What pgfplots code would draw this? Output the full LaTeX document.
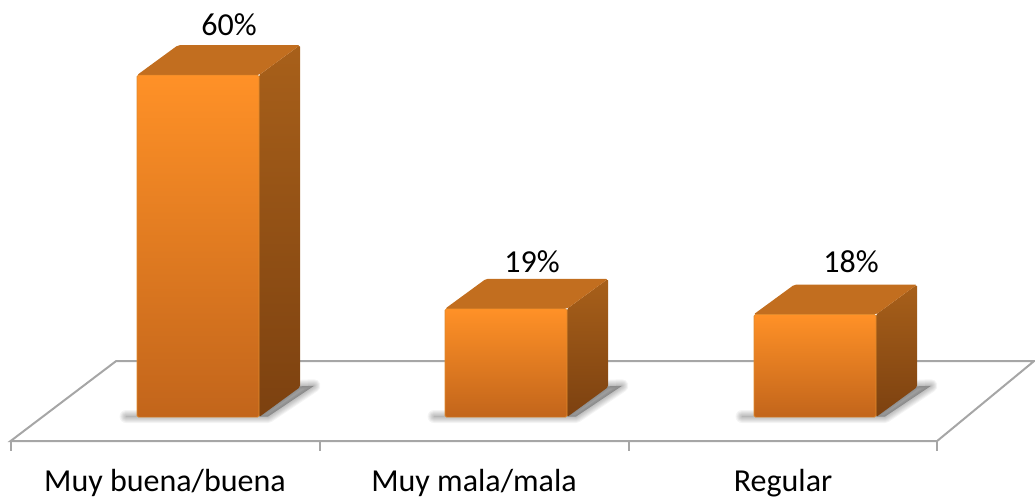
\documentclass[border=0pt]{standalone}
\usepackage{pgfplots}
\pgfplotsset{compat=1.18}
\usepackage{fontspec}
\setmainfont{Carlito}
\definecolor{planeline}{HTML}{A6A6A6}
\definecolor{fronttop}{HTML}{FF9127}
\definecolor{frontmid}{HTML}{EE8424}
\definecolor{frontbot}{HTML}{C2651B}
\definecolor{topface}{HTML}{C26E1F}
\definecolor{sidetop}{HTML}{A8601A}
\definecolor{sidebot}{HTML}{7C4110}
\definecolor{edge}{HTML}{E08A2C}
\pgfplotsset{shlayer/.style={forget plot,draw=black,fill=black,opacity=0.045,line join=round,line width=#1}}
\newcommand{\soft}[1]{%
  \addplot[shlayer=13pt] coordinates {#1} -- cycle;
  \addplot[shlayer=11pt] coordinates {#1} -- cycle;
  \addplot[shlayer=9pt] coordinates {#1} -- cycle;
  \addplot[shlayer=7pt] coordinates {#1} -- cycle;
  \addplot[shlayer=5pt] coordinates {#1} -- cycle;
  \addplot[shlayer=3pt] coordinates {#1} -- cycle;
  \addplot[shlayer=1pt] coordinates {#1} -- cycle;
}
\newcommand{\sideface}[1]{\addplot[forget plot,draw=none,top color=sidetop,bottom color=sidebot,rounded corners=1.5pt] coordinates {#1} -- cycle;}
\newcommand{\topface}[1]{\addplot[forget plot,draw=none,fill=topface,rounded corners=2pt] coordinates {#1} -- cycle;}
\pgfplotsset{front/.style={forget plot,ybar,bar width=122pt,bar shift=0pt,draw=edge,line width=0.6pt,rounded corners=1.5pt,top color=fronttop,middle color=frontmid,bottom color=frontbot}}
\begin{document}
\begin{tikzpicture}
\begin{axis}[
  scale only axis, width=1035pt, height=498pt,
  xmin=0, xmax=1035, ymin=-14.21, ymax=73.16,
  clip=false,
  axis line style={draw=none},
  ytick=\empty,
  xtick={165,474,783},
  xticklabels={Muy buena/buena,Muy mala/mala,Regular},
  major tick length=0pt,
  xticklabel style={anchor=base,yshift=7pt,font=\fontsize{32}{36}\selectfont,text=black},
]
% floor
\addplot[forget plot,draw=planeline,line width=2pt,line join=miter] coordinates {(10.5,-4.21)(116,9.82)(1034,9.82)(937,-4.21)} -- cycle;
\addplot[forget plot,draw=planeline,line width=2pt] coordinates {(10.5,-4.21)(10.5,-5.96)};
\addplot[forget plot,draw=planeline,line width=2pt] coordinates {(319.5,-4.21)(319.5,-5.96)};
\addplot[forget plot,draw=planeline,line width=2pt] coordinates {(628.5,-4.21)(628.5,-5.96)};
\addplot[forget plot,draw=planeline,line width=2pt] coordinates {(937,-4.21)(937,-5.96)};
% shadows
\soft{(126,0.1)(259,0.1)(300,5.4)(314,5.5)(268,0.1)}
\soft{(434,0.1)(567,0.1)(608,5.4)(622,5.5)(576,0.1)}
\soft{(742,0.1)(876,0.1)(917,5.4)(931,5.5)(885,0.1)}
% side faces
\sideface{(259,0)(300,5.26)(300,65.26)(259,60)}
\sideface{(567,0)(608,5.26)(608,24.26)(567,19)}
\sideface{(876,0)(917,5.26)(917,23.26)(876,18)}
% top faces
\topface{(137,60)(178,65.26)(300,65.26)(259,60)}
\topface{(445,19)(486,24.26)(608,24.26)(567,19)}
\topface{(753.5,18)(794.5,23.26)(917,23.26)(876,18)}
% front faces
\addplot[front] coordinates {(198,60)};
\addplot[front] coordinates {(506,19)};
\addplot[front] coordinates {(815,18)};
% value labels
\node[anchor=base,font=\fontsize{32}{36}\selectfont] at (axis cs:229,67.0) {60\%};
\node[anchor=base,font=\fontsize{32}{36}\selectfont] at (axis cs:532,25.4) {19\%};
\node[anchor=base,font=\fontsize{32}{36}\selectfont] at (axis cs:851,25.3) {18\%};
\end{axis}
\end{tikzpicture}
\end{document}
